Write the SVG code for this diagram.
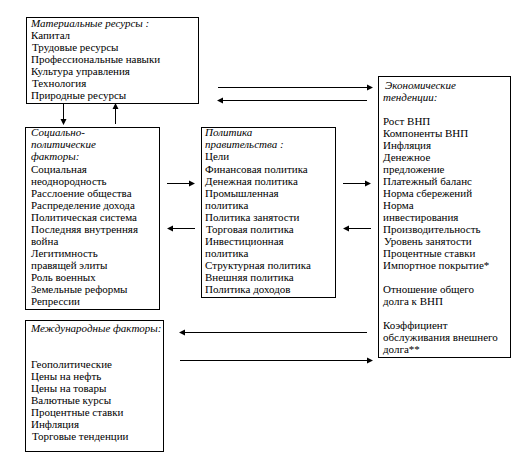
<svg xmlns="http://www.w3.org/2000/svg" width="526" height="469" viewBox="0 0 526 469" font-family="Liberation Serif, serif">
<style>
.box{fill:#fff;stroke:#000;stroke-width:1}
.t{font-family:"Liberation Serif",serif;font-size:11px;fill:#000}
.h{font-style:italic}
.ln{stroke:#000;stroke-width:1;fill:none}
.hd{fill:#000;stroke:none}
</style>
<rect width="526" height="469" fill="#fff"/>
<g id="material">
<rect class="box" x="26.5" y="17.5" width="172" height="86"/>
<text class="t h" x="31" y="27">Материальные ресурсы :</text>
<text class="t" x="31" y="39">Капитал</text>
<text class="t" x="32" y="51">Трудовые ресурсы</text>
<text class="t" x="31" y="63">Профессиональные навыки</text>
<text class="t" x="31" y="75">Культура управления</text>
<text class="t" x="32" y="87">Технология</text>
<text class="t" x="31" y="99">Природные ресурсы</text>
</g>
<g id="social">
<rect class="box" x="25.5" y="127.5" width="134" height="182"/>
<text class="t h" x="31" y="136">Социально-</text>
<text class="t h" x="31" y="148">политические</text>
<text class="t h" x="31" y="160">факторы:</text>
<text class="t" x="31" y="173">Социальная</text>
<text class="t" x="31" y="185">неоднородность</text>
<text class="t" x="31" y="197">Расслоение общества</text>
<text class="t" x="31" y="209">Распределение дохода</text>
<text class="t" x="31" y="221">Политическая система</text>
<text class="t" x="31" y="233">Последняя внутренняя</text>
<text class="t" x="31" y="245">война</text>
<text class="t" x="31" y="257">Легитимность</text>
<text class="t" x="31" y="269">правящей элиты</text>
<text class="t" x="31" y="281">Роль военных</text>
<text class="t" x="31" y="293">Земельные реформы</text>
<text class="t" x="31" y="305">Репрессии</text>
</g>
<g id="policy">
<rect class="box" x="201.5" y="127.5" width="134" height="170"/>
<text class="t h" x="205" y="136">Политика</text>
<text class="t h" x="205" y="148">правительства :</text>
<text class="t" x="205" y="160">Цели</text>
<text class="t" x="205" y="173">Финансовая политика</text>
<text class="t" x="205" y="185">Денежная политика</text>
<text class="t" x="205" y="197">Промышленная</text>
<text class="t" x="205" y="209">политика</text>
<text class="t" x="205" y="221">Политика занятости</text>
<text class="t" x="206" y="233">Торговая политика</text>
<text class="t" x="205" y="245">Инвестиционная</text>
<text class="t" x="205" y="257">политика</text>
<text class="t" x="205" y="269">Структурная политика</text>
<text class="t" x="205" y="281">Внешняя политика</text>
<text class="t" x="205" y="293">Политика доходов</text>
</g>
<g id="economic">
<rect class="box" x="378.5" y="76.5" width="132" height="281"/>
<text class="t h" x="385" y="89">Экономические</text>
<text class="t h" x="383" y="101">тенденции:</text>
<text class="t" x="383" y="125">Рост ВНП</text>
<text class="t" x="383" y="137">Компоненты ВНП</text>
<text class="t" x="383" y="149">Инфляция</text>
<text class="t" x="383" y="161">Денежное</text>
<text class="t" x="383" y="173">предложение</text>
<text class="t" x="383" y="185">Платежный баланс</text>
<text class="t" x="383" y="197">Норма сбережений</text>
<text class="t" x="383" y="209">Норма</text>
<text class="t" x="383" y="221">инвестирования</text>
<text class="t" x="383" y="233">Производительность</text>
<text class="t" x="384" y="245">Уровень занятости</text>
<text class="t" x="383" y="257">Процентные ставки</text>
<text class="t" x="383" y="269">Импортное покрытие*</text>
<text class="t" x="383" y="293">Отношение общего</text>
<text class="t" x="383" y="305">долга к ВНП</text>
<text class="t" x="383" y="329">Коэффициент</text>
<text class="t" x="383" y="341">обслуживания внешнего</text>
<text class="t" x="383" y="353">долга**</text>
</g>
<g id="international">
<rect class="box" x="25.5" y="320.5" width="138" height="131"/>
<text class="t h" x="31" y="332" font-size="10.5">Международные факторы:</text>
<text class="t" x="31" y="368">Геополитические</text>
<text class="t" x="31" y="380">Цены на нефть</text>
<text class="t" x="31" y="392">Цены на товары</text>
<text class="t" x="31" y="404">Валютные курсы</text>
<text class="t" x="31" y="416">Процентные ставки</text>
<text class="t" x="31" y="428">Инфляция</text>
<text class="t" x="32" y="440">Торговые тенденции</text>
</g>
<g id="connectors">
<path class="ln" d="M63.5,104V120 M115.5,124V108 M218,87.5H368 M367,100.5H222 M167,183.5H190 M195,228.5H172 M343,183.5H366 M371,228.5H348 M367,332.5H184 M180,360.5H368"/>
<path class="hd" d="M60.5,119L66.5,119L63.5,125Z M112.5,109L118.5,109L115.5,103Z M367,84.5L373,87.5L367,90.5Z M223,97.5L217,100.5L223,103.5Z M189,180.5L195,183.5L189,186.5Z M173,225.5L167,228.5L173,231.5Z M365,180.5L371,183.5L365,186.5Z M349,225.5L343,228.5L349,231.5Z M185,329.5L179,332.5L185,335.5Z M367,357.5L373,360.5L367,363.5Z"/>
</g>
</svg>
